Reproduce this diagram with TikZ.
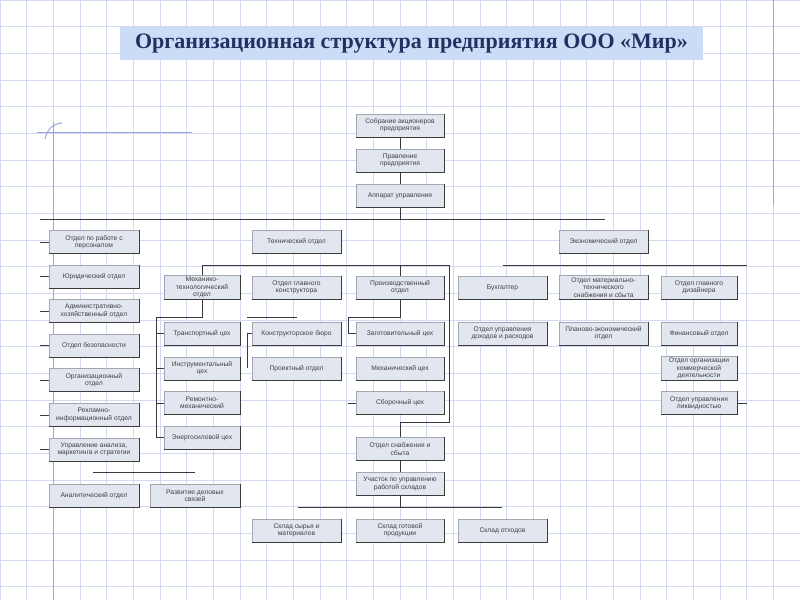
\documentclass[tikz,border=0pt]{standalone}
\usepackage{fontspec}
\setmainfont{Liberation Sans}
\newfontfamily\titlefont{Liberation Serif}
\definecolor{gridc}{HTML}{D3D9F2}
\definecolor{marginc}{HTML}{98A6DC}
\definecolor{boxfill}{HTML}{E2E6EF}
\definecolor{boxline}{HTML}{A2A7B2}
\definecolor{edgec}{HTML}{3C3C3C}
\definecolor{linec}{HTML}{3A3A3A}
\definecolor{titlefill}{HTML}{CADCF6}
\definecolor{titletext}{HTML}{203262}
\definecolor{textc}{HTML}{404040}
\tikzset{
  box/.style={rectangle, draw=boxline, fill=boxfill, line width=0.6pt, align=center,
    inner sep=0.5pt, text=textc, font=\fontsize{6.7}{7.3}\selectfont, minimum height=23pt},
  wL/.style={minimum width=90pt},
  wM/.style={minimum width=76pt},
  wT/.style={minimum width=89pt},
  wC/.style={minimum width=88pt},
  conn/.style={draw=linec, line width=0.8pt},
  edge/.style={draw=edgec, line width=1pt},
  gridline/.style={draw=gridc, line width=0.7pt},
  marginline/.style={draw=marginc, line width=1pt},
}
\begin{document}
\begin{tikzpicture}[x=1pt,y=-1pt]
\useasboundingbox (0,0) rectangle (800,600);
\fill[white] (0,0) rectangle (800,600);
% graph paper
\foreach \i in {0,...,30} \draw[gridline] ({\i*26.667},0) -- ({\i*26.667},600);
\foreach \j in {0,...,22} \draw[gridline] (0,{\j*26.667}) -- (800,{\j*26.667});
% notebook marks
\draw[marginline] (53,122) -- (53,600);
\draw[marginline] (37,132) -- (192,132);
\draw[marginline] (45,139) .. controls (48,127) and (54,124) .. (62,123);
\draw[marginline] (773,0) -- (773,205);
% title
\node[fill=titlefill, minimum width=583pt, minimum height=33pt, inner sep=0pt,
  text=titletext, font=\titlefont\bfseries\fontsize{22}{24}\selectfont] (title) at (411.5,43.5)
  {Организационная структура предприятия ООО «Мир»};
% top chain
\node[box,wC] (sobr) at (400,125.5) {Собрание акционеров\\предприятия};
\node[box,wC] (prav) at (400,160.5) {Правление\\предприятия};
\node[box,wC] (app) at (400,195.5) {Аппарат управления};
% left column
\node[box,wL] (pers) at (94,242) {Отдел по работе с\\персоналом};
\node[box,wL] (jur) at (94,276.5) {Юридический отдел};
\node[box,wL] (adm) at (94,311) {Административно-\\хозяйственный отдел};
\node[box,wL] (bez) at (94,345.5) {Отдел безопасности};
\node[box,wL] (org) at (94,380) {Организационный\\отдел};
\node[box,wL] (rekl) at (94,415) {Рекламно-\\информационный отдел};
\node[box,wL] (upr) at (94,449.5) {Управление анализа,\\маркетинга и стратегии};
\node[box,wL] (anal) at (94,496) {Аналитический отдел};
\node[box,wL] (razv) at (195,496) {Развитие деловых\\связей};
% technical
\node[box,wT] (tech) at (296.5,242) {Технический отдел};
\node[box,wM,minimum height=24pt] (mech) at (202,287.5) {Механико-\\технологический\\отдел};
\node[box,wT] (glk) at (296.5,287.5) {Отдел главного\\конструктора};
\node[box,wC] (proiz) at (400,287.5) {Производственный\\отдел};
\node[box,wM] (trans) at (202,333.5) {Транспортный цех};
\node[box,wM] (instr) at (202,368.5) {Инструментальный\\цех};
\node[box,wM] (rem) at (202,403) {Ремонтно-\\механический};
\node[box,wM] (energo) at (202,437.5) {Энергосиловой цех};
\node[box,wT] (kb) at (296.5,333.5) {Конструкторское бюро};
\node[box,wT] (proj) at (296.5,368.5) {Проектный отдел};
\node[box,wC] (zag) at (400,333.5) {Заготовительный цех};
\node[box,wC] (mehc) at (400,368.5) {Механический цех};
\node[box,wC] (sbor) at (400,403) {Сборочный цех};
\node[box,wC] (snab) at (400,449) {Отдел снабжения и\\сбыта};
\node[box,wC] (uch) at (400,484) {Участок по управлению\\работой складов};
\node[box,wT] (sk1) at (296.5,530.5) {Склад сырья и\\материалов};
\node[box,wC] (sk2) at (400,530.5) {Склад готовой\\продукции};
\node[box,wT] (sk3) at (502.5,530.5) {Склад отходов};
% economic
\node[box,wT] (econ) at (603.5,242) {Экономический отдел};
\node[box,wT] (buh) at (502.5,287.5) {Бухгалтер};
\node[box,wT,minimum height=24pt] (mts) at (603.5,287.5) {Отдел материально-\\технического\\снабжения и сбыта};
\node[box,wM] (diz) at (699,287.5) {Отдел главного\\дизайнера};
\node[box,wT] (doh) at (502.5,333.5) {Отдел управления\\доходов и расходов};
\node[box,wT] (plan) at (603.5,333.5) {Планово-экономический\\отдел};
\node[box,wM] (fin) at (699,333.5) {Финансовый отдел};
\node[box,wM,minimum height=24pt] (kom) at (699,368.5) {Отдел организации\\коммерческой\\деятельности};
\node[box,wM] (liq) at (699,403) {Отдел управления\\ликвидностью};
% dark right/bottom edges
\foreach \n in {sobr,prav,app,pers,jur,adm,bez,org,rekl,upr,anal,razv,tech,mech,glk,proiz,
  trans,instr,rem,energo,kb,proj,zag,mehc,sbor,snab,uch,sk1,sk2,sk3,econ,buh,mts,diz,doh,plan,fin,kom,liq}
  \draw[edge] (\n.north east) -- (\n.south east) -- (\n.south west);
% connectors
\coordinate (mainL) at (40,219);
\coordinate (mainR) at (605,219);
\draw[conn] (mainL) -- (mainR);
\draw[conn] (sobr) -- (prav);
\draw[conn] (prav) -- (app);
\draw[conn] (app.south) -- (app.south |- mainL);
\foreach \n in {pers,jur,adm,bez,org,rekl,upr} \draw[conn] (\n.west) -- (40,0 |- \n.west);
\coordinate (fl1) at (93,472);
\coordinate (fl2) at (195,472);
\draw[conn] (fl1) -- (fl2);
% technical branch
\coordinate (t1) at (202,265);
\coordinate (t2) at (449,265);
\coordinate (t3) at (449,422);
\draw[conn] (mech.north) -- (t1) -- (t2) -- (t3) -- (t3 -| snab.north) -- (snab.north);
\draw[conn] (proiz.north) -- (proiz.north |- t1);
\coordinate (m1) at (156,317);
\draw[conn] (mech.south) -- (mech.south |- m1) -- (m1) -- (m1 |- energo.west) -- (energo.west);
\foreach \n in {trans,instr,rem} \draw[conn] (\n.west) -- (m1 |- \n.west);
\coordinate (k1) at (247,317);
\coordinate (k2) at (297,317);
\draw[conn] (k1) -- (k2);
\coordinate (k3) at (247,368);
\draw[conn] (kb.west) -- (kb.west -| k3) -- (k3);
\coordinate (p1) at (348,317);
\draw[conn] (proiz.south) -- (proiz.south |- p1) -- (p1) -- (p1 |- zag.west) -- (zag.west);
\draw[conn] (sbor.west) -- (sbor.west -| p1);
\draw[conn] (snab) -- (uch);
\coordinate (s1) at (298,507);
\coordinate (s2) at (502,507);
\draw[conn] (uch.south) -- (uch.south |- s1);
\draw[conn] (s1) -- (s2);
% economic branch
\coordinate (e1) at (503,265);
\coordinate (e2) at (747,265);
\draw[conn] (e1) -- (e2);
\draw[conn] (liq.east) -- (liq.east -| e2);
\end{tikzpicture}
\end{document}
